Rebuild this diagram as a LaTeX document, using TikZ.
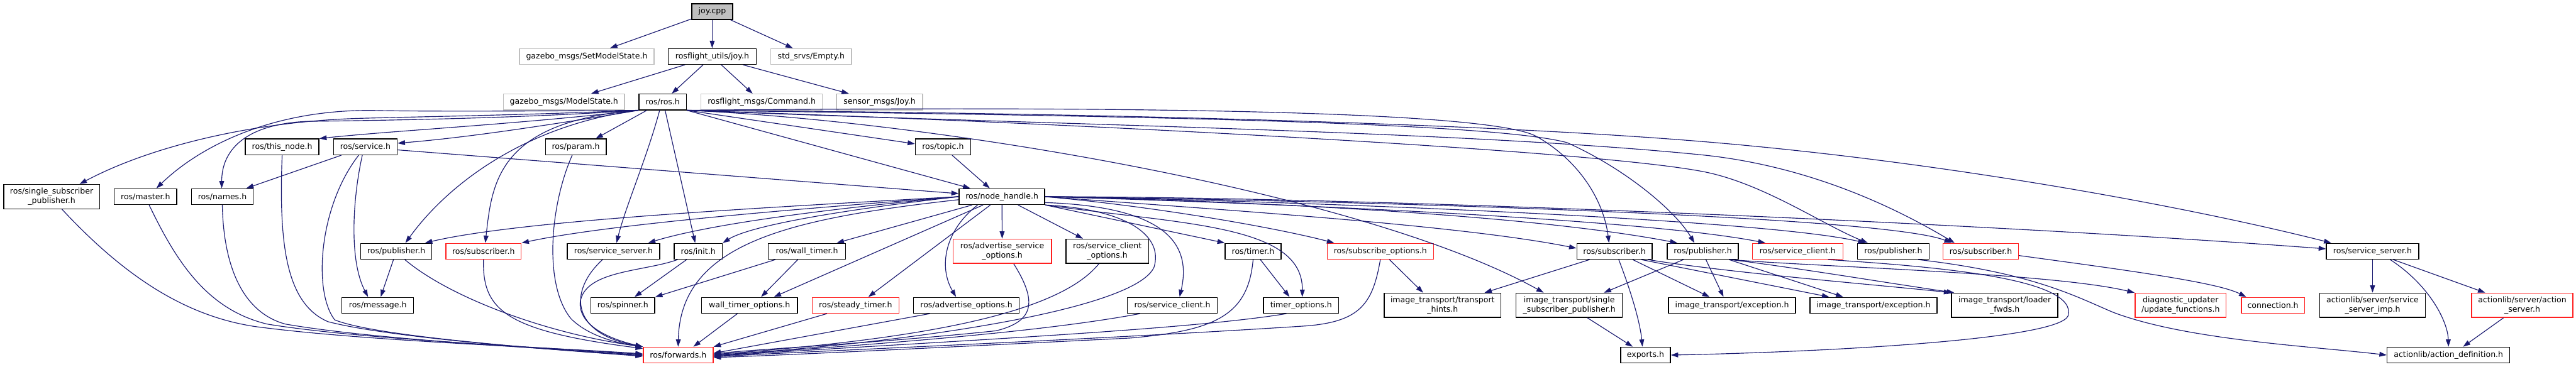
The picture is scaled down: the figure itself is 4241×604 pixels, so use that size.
\documentclass[tikz,border=0pt]{standalone}
\usepackage{fontspec}
\setmainfont{DejaVu Sans}
\usetikzlibrary{arrows.meta}
\definecolor{edgec}{HTML}{191970}
\definecolor{graybd}{HTML}{BFBFBF}
\definecolor{redbd}{HTML}{FF2020}
\newcommand\mknode[7]{\node[#1, minimum width={(#4-#3)*1pt}, minimum height={(#6-#5)*1pt}] (#2) at ({(#3+#4)/2},{(#5+#6)/2}) {#7};}
\begin{document}
\begin{tikzpicture}[x=1pt,y=-1pt,
  every node/.style={font=\fontsize{13}{15}\selectfont, inner sep=0pt, align=center},
  nb/.style={draw=black, line width=1.5pt, fill=white},
  nr/.style={draw=redbd, line width=1.5pt, fill=white},
  ng/.style={draw=graybd, line width=1.5pt, fill=white},
  nroot/.style={draw=black, line width=1.5pt, fill=graybd},
  edge/.style={draw=edgec, line width=1.2pt, -{Triangle[length=12pt,width=8pt]}}]
\useasboundingbox (0,0) rectangle (4241,604);
% nodes
\mknode{nroot}{joy}{1139}{1206}{6}{32}{joy.cpp}
\mknode{ng}{setms}{855}{1077}{80}{106}{gazebo\_msgs/SetModelState.h}
\mknode{nb}{rjoy}{1100}{1245}{80}{106}{rosflight\_utils/joy.h}
\mknode{ng}{empty}{1269}{1402}{80}{106}{std\_srvs/Empty.h}
\mknode{ng}{mstate}{829}{1028}{155}{181}{gazebo\_msgs/ModelState.h}
\mknode{nb}{ros}{1052}{1130}{155}{181}{ros/ros.h}
\mknode{ng}{cmd}{1154}{1354}{155}{181}{rosflight\_msgs/Command.h}
\mknode{ng}{sjoy}{1377}{1519}{155}{181}{sensor\_msgs/Joy.h}
\mknode{nb}{thisnode}{404}{525}{229}{255}{ros/this\_node.h}
\mknode{nb}{service}{549}{654}{229}{255}{ros/service.h}
\mknode{nb}{param}{898}{998}{229}{255}{ros/param.h}
\mknode{nb}{topic}{1507}{1598}{229}{255}{ros/topic.h}
\mknode{nb}{ssp}{6}{164}{304}{344}{ros/single\_subscriber\\\_publisher.h}
\mknode{nb}{master}{188}{291}{311}{337}{ros/master.h}
\mknode{nb}{names}{315}{417}{311}{337}{ros/names.h}
\mknode{nb}{nh}{1579}{1720}{311}{337}{ros/node\_handle.h}
\mknode{nb}{pubL}{594}{711}{401}{427}{ros/publisher.h}
\mknode{nr}{subL}{734}{858}{401}{427}{ros/subscriber.h}
\mknode{nb}{ssL}{934}{1086}{401}{427}{ros/service\_server.h}
\mknode{nb}{init}{1110}{1189}{401}{427}{ros/init.h}
\mknode{nb}{wtimer}{1265}{1392}{401}{427}{ros/wall\_timer.h}
\mknode{nr}{aso}{1569}{1731}{394}{434}{ros/advertise\_service\\\_options.h}
\mknode{nb}{sco}{1755}{1891}{394}{434}{ros/service\_client\\\_options.h}
\mknode{nb}{timer}{2017}{2109}{401}{427}{ros/timer.h}
\mknode{nr}{subopt}{2185}{2360}{401}{427}{ros/subscribe\_options.h}
\mknode{nb}{subB}{2596}{2720}{401}{427}{ros/subscriber.h}
\mknode{nb}{pubM}{2745}{2862}{401}{427}{ros/publisher.h}
\mknode{nr}{scR}{2885}{3034}{401}{427}{ros/service\_client.h}
\mknode{nb}{pubR}{3058}{3176}{401}{427}{ros/publisher.h}
\mknode{nr}{subR}{3199}{3323}{401}{427}{ros/subscriber.h}
\mknode{nb}{ssR}{3830}{3982}{401}{427}{ros/service\_server.h}
\mknode{nb}{message}{563}{681}{490}{516}{ros/message.h}
\mknode{nb}{spinner}{973}{1078}{490}{516}{ros/spinner.h}
\mknode{nb}{wto}{1155}{1313}{490}{516}{wall\_timer\_options.h}
\mknode{nr}{steady}{1337}{1480}{490}{516}{ros/steady\_timer.h}
\mknode{nb}{advopt}{1504}{1678}{490}{516}{ros/advertise\_options.h}
\mknode{nb}{scM}{1856}{2004}{490}{516}{ros/service\_client.h}
\mknode{nb}{topt}{2080}{2204}{490}{516}{timer\_options.h}
\mknode{nb}{th}{2279}{2471}{483}{523}{image\_transport/transport\\\_hints.h}
\mknode{nb}{itssp}{2496}{2671}{483}{523}{image\_transport/single\\\_subscriber\_publisher.h}
\mknode{nb}{exc1}{2747}{2956}{490}{516}{image\_transport/exception.h}
\mknode{nb}{exc2}{2980}{3189}{490}{516}{image\_transport/exception.h}
\mknode{nb}{loader}{3213}{3388}{483}{523}{image\_transport/loader\\\_fwds.h}
\mknode{nr}{diag}{3515}{3665}{483}{523}{diagnostic\_updater\\/update\_functions.h}
\mknode{nr}{conn}{3690}{3794}{490}{516}{connection.h}
\mknode{nb}{ssimp}{3819}{3993}{483}{523}{actionlib/server/service\\\_server\_imp.h}
\mknode{nr}{aserv}{4069}{4236}{483}{523}{actionlib/server/action\\\_server.h}
\mknode{nr}{fwd}{1059}{1174}{572}{598}{ros/forwards.h}
\mknode{nb}{exports}{2668}{2750}{572}{598}{exports.h}
\mknode{nb}{adef}{3930}{4132}{572}{598}{actionlib/action\_definition.h}
% top edges
\draw[edge] (joy) -- (setms);
\draw[edge] (joy) -- (rjoy);
\draw[edge] (joy) -- (empty);
\draw[edge] (rjoy) -- (mstate);
\draw[edge] (rjoy) -- (ros);
\draw[edge] (rjoy) -- (cmd);
\draw[edge] (rjoy) -- (sjoy);
% ros to the left
\draw[edge] (ros.south west) .. controls (900,183) and (700,184) .. (615,182) .. controls (450,180) and (330,240) .. ([xshift=18pt]master.north);
\draw[edge] (ros.south west) .. controls (850,190) and (700,192) .. (592,195) .. controls (420,200) and (250,240) .. ([xshift=46pt]ssp.north);
\draw[edge] (ros.south west) .. controls (850,195) and (650,198) .. (505,200) .. controls (400,205) and (365,250) .. ([xshift=-1pt]names.north);
\draw[edge] (ros.south west) .. controls (850,205) and (650,215) .. (thisnode.north east);
\draw[edge] (ros.south west) .. controls (850,215) and (750,228) .. ([yshift=6pt]service.east);
\draw[edge] (ros.south west) .. controls (870,205) and (740,300) .. ([xshift=15pt]pubL.north);
\draw[edge] (ros.south west) .. controls (820,200) and (810,300) .. ([xshift=3pt]subL.north);
\draw[edge] ([xshift=-26pt]ros.south) -- ([xshift=-18pt]param.north east);
\draw[edge] ([xshift=-5pt]ros.south) .. controls (1065,260) and (1030,340) .. ([xshift=5pt]ssL.north);
\draw[edge] ([xshift=4pt]ros.south) -- ([xshift=-5pt]init.north);
% ros to the right
\draw[edge] (ros.south east) -- ([yshift=5pt]topic.west);
\draw[edge] (ros.south east) -- ([xshift=-52pt]nh.north);
\draw[edge] (ros.south east) .. controls (1550,200) and (2250,320) .. ([xshift=-42pt]itssp.north);
\draw[edge] (ros.south east) .. controls (1800,175) and (2450,180) .. (2530,225) .. controls (2600,265) and (2640,330) .. ([xshift=-9pt]subB.north);
\draw[edge] (ros.south east) .. controls (1800,190) and (2450,200) .. (2580,235) .. controls (2680,280) and (2760,350) .. ([xshift=-14pt]pubM.north);
\draw[edge] (ros.south east) .. controls (1700,200) and (2600,245) .. (2800,282) .. controls (2900,300) and (3000,370) .. ([xshift=-42pt]pubR.north);
\draw[edge] (ros.south east) .. controls (1700,205) and (2400,215) .. (2800,255) .. controls (3000,275) and (3150,360) .. ([xshift=-43pt]subR.north);
\draw[edge] (ros.south east) .. controls (1700,185) and (2400,200) .. (2800,233) .. controls (3200,266) and (3600,340) .. ([xshift=-68pt]ssR.north);
\draw[edge] ([xshift=15pt]topic.south) -- ([xshift=-20pt]nh.north);
% service
\draw[edge] (service) -- (names);
\draw[edge] ([yshift=-5pt]service.east) -- ([yshift=5pt]nh.west);
\draw[edge] ([xshift=-5pt]service.south) .. controls (580,330) and (575,430) .. ([xshift=-16pt]message.north);
\draw[edge] ([xshift=-11pt]service.south) .. controls (525,340) and (515,480) .. (551,527) .. controls (620,555) and (900,575) .. ([yshift=-2pt]fwd.west);
% left column to forwards
\draw[edge] ([xshift=17pt]ssp.south) .. controls (200,450) and (300,520) .. (420,538) .. controls (600,562) and (900,572) .. ([yshift=2pt]fwd.west);
\draw[edge] ([xshift=6pt]master.south) .. controls (290,430) and (340,510) .. (440,534) .. controls (600,560) and (900,572) .. ([yshift=1pt]fwd.west);
\draw[edge] (names.south) .. controls (368,440) and (400,515) .. (470,534) .. controls (620,560) and (900,574) .. (fwd.west);
\draw[edge] (thisnode.south) .. controls (459,400) and (470,500) .. (540,530) .. controls (640,556) and (900,576) .. ([yshift=-1pt]fwd.west);
\draw[edge] (pubL) -- (message);
\draw[edge] ([xshift=14pt]pubL.south) .. controls (740,490) and (900,550) .. (fwd.north west);
\draw[edge] (subL.south) .. controls (794,510) and (830,545) .. ([yshift=-3pt]fwd.north west);
\draw[edge] ([xshift=-6pt]param.south) .. controls (905,340) and (895,470) .. (940,525) .. controls (970,555) and (1020,566) .. (fwd.north west);
\draw[edge] ([xshift=-18pt]ssL.south) .. controls (935,480) and (940,550) .. (fwd.north west);
\draw[edge] (init) -- (spinner);
\draw[edge] ([xshift=-34pt]init.south) .. controls (1060,448) and (960,445) .. (955,500) .. controls (955,540) and (1010,560) .. (fwd.north west);
\draw[edge] ([xshift=-52pt]wtimer.south) -- (spinner.north east);
\draw[edge] ([xshift=-15pt]wtimer.south) -- ([xshift=19pt]wto.north);
\draw[edge] ([xshift=-20pt]wto.south) -- ([xshift=25pt]fwd.north);
\draw[edge] ([xshift=-47pt]steady.south) -- (fwd.north east);
% node_handle to the left
\draw[edge] ([yshift=-5pt]nh.west) .. controls (1300,360) and (1120,400) .. (fwd.north);
\draw[edge] (nh.west) .. controls (1200,345) and (850,365) .. ([xshift=-12pt]pubL.north east);
\draw[edge] (nh.west) .. controls (1300,345) and (1000,370) .. (subL.north east);
\draw[edge] (nh.west) .. controls (1300,350) and (1150,375) .. ([xshift=57pt]ssL.north);
\draw[edge] (nh.west) .. controls (1350,350) and (1230,375) .. (init.north east);
\draw[edge] (nh) -- (wtimer);
\draw[edge] ([xshift=-31pt]nh.south) -- ([xshift=40pt]wto.north);
\draw[edge] ([xshift=-19pt]nh.south) -- ([xshift=21pt]steady.north);
\draw[edge] ([xshift=-40pt]nh.south) .. controls (1555,380) and (1545,440) .. ([xshift=-17pt]advopt.north);
\draw[edge] (nh) -- (aso);
\draw[edge] (nh) -- (sco);
\draw[edge] (nh.south east) .. controls (1860,345) and (1915,390) .. (1900,440) .. controls (1870,510) and (1500,565) .. (fwd.east);
\draw[edge] ([yshift=4pt]nh.south east) .. controls (1900,340) and (1965,390) .. ([xshift=12pt]scM.north);
\draw[edge] (nh.south east) -- (timer.north west);
\draw[edge] (nh.south east) .. controls (1950,370) and (2145,370) .. ([xshift=2pt]topt.north);
% node_handle to the right
\draw[edge] (nh.east) .. controls (1900,340) and (2100,375) .. ([xshift=-76pt]subopt.north);
\draw[edge] (nh.east) .. controls (2000,345) and (2400,370) .. ([yshift=5pt]subB.west);
\draw[edge] (nh.east) .. controls (2000,330) and (2500,350) .. ([xshift=-42pt]pubM.north);
\draw[edge] (nh.east) .. controls (2100,335) and (2700,360) .. ([xshift=-53pt]scR.north);
\draw[edge] (nh.east) .. controls (2100,330) and (2900,360) .. ([xshift=-46pt]pubR.north);
\draw[edge] (nh.east) .. controls (2200,330) and (3100,355) .. ([xshift=-48pt]subR.north);
\draw[edge] (nh.east) .. controls (2300,325) and (3300,370) .. ([yshift=4pt]ssR.west);
% middle row to forwards
\draw[edge] ([xshift=12pt]timer.south) -- ([xshift=-19pt]topt.north);
\draw[edge] (timer.south) .. controls (2055,520) and (2000,545) .. (1860,557) .. controls (1600,570) and (1300,585) .. ([yshift=-4pt]fwd.east);
\draw[edge] ([xshift=-24pt]topt.south) .. controls (1950,545) and (1500,565) .. ([yshift=-2pt]fwd.east);
\draw[edge] ([xshift=19pt]aso.south) .. controls (1710,500) and (1700,530) .. (1640,545) .. controls (1450,565) and (1250,575) .. ([yshift=2pt]fwd.east);
\draw[edge] ([xshift=-14pt]sco.south) .. controls (1740,520) and (1500,560) .. ([yshift=1pt]fwd.east);
\draw[edge] ([xshift=-53pt]scM.south) .. controls (1700,550) and (1400,570) .. ([yshift=-1pt]fwd.east);
\draw[edge] ([xshift=-60pt]advopt.south) -- ([yshift=3pt]fwd.east);
\draw[edge] (subopt.south) .. controls (2260,500) and (2240,530) .. (2150,537) .. controls (1800,560) and (1300,580) .. ([yshift=-3pt]fwd.east);
% image_transport area
\draw[edge] ([xshift=15pt]subopt.south) -- ([xshift=-32pt]th.north);
\draw[edge] ([xshift=-41pt]subB.south) -- ([xshift=69pt]th.north);
\draw[edge] ([xshift=7pt]subB.south) .. controls (2685,480) and (2700,530) .. ([xshift=-5pt]exports.north);
\draw[edge] ([xshift=30pt]subB.south) -- ([xshift=-37pt]exc1.north);
\draw[edge] ([xshift=44pt]subB.south) -- ([xshift=-73pt]exc2.north);
\draw[edge] ([xshift=55pt]subB.south) .. controls (2850,450) and (3100,470) .. (loader.north west);
\draw[edge] ([xshift=-32pt]pubM.south) -- ([xshift=57pt]itssp.north);
\draw[edge] ([xshift=5pt]pubM.south) -- ([xshift=-14pt]exc1.north);
\draw[edge] ([xshift=43pt]pubM.south) -- ([xshift=-50pt]exc2.north);
\draw[edge] ([xshift=45pt]pubM.south) .. controls (2950,440) and (3100,465) .. ([xshift=5pt]loader.north west);
\draw[edge] ([xshift=45pt]pubM.south) .. controls (3000,440) and (3380,450) .. (diag.north west);
\draw[edge] ([xshift=30pt]itssp.south) -- ([xshift=-21pt]exports.north);
\draw[edge] ([xshift=50pt]scR.south) .. controls (3200,440) and (3420,460) .. (3405,520) .. controls (3390,560) and (3000,580) .. (exports.east);
\draw[edge] ([xshift=41pt]pubR.south) .. controls (3350,450) and (3420,490) .. (3480,515) .. controls (3600,560) and (3800,570) .. (adef.west);
\draw[edge] ([yshift=-7pt]subR.east) .. controls (3500,445) and (3650,465) .. ([xshift=-44pt]conn.north);
% actionlib
\draw[edge] (ssR) -- (ssimp);
\draw[edge] ([xshift=29pt]ssR.south) .. controls (4000,470) and (4030,530) .. (adef.north);
\draw[edge] ([xshift=34pt]ssR.south) -- ([xshift=-61pt]aserv.north);
\draw[edge] ([xshift=-31pt]aserv.south) -- ([xshift=24pt]adef.north);
\end{tikzpicture}
\end{document}
